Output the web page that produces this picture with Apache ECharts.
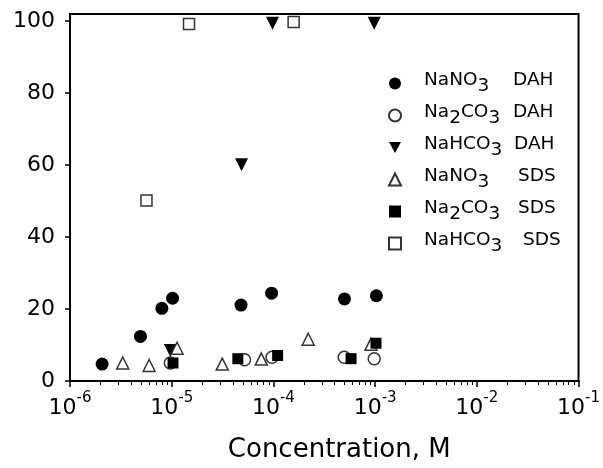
<!DOCTYPE html>
<html><head><meta charset="utf-8">
<script src="https://cdn.jsdelivr.net/npm/echarts@6/dist/echarts.min.js"></script>
<style>html,body{margin:0;padding:0;background:#fff}#c{width:603px;height:468px}</style>
</head><body><div id="c"></div>
<script>
// Data (concentration in M, value in %)
const nano3DAH_x = [2.07e-6, 4.93e-6, 8.0e-6, 1.02e-5, 4.8e-5, 9.6e-5, 5.0e-4, 1.03e-3];
const nano3DAH_y = [4.7, 12.4, 20.2, 23.0, 21.1, 24.4, 22.8, 23.7];
const na2co3DAH_x = [9.7e-6, 5.2e-5, 9.7e-5, 4.97e-4, 9.8e-4];
const na2co3DAH_y = [5.0, 5.9, 6.6, 6.6, 6.2];
const nahco3DAH_x = [9.7e-6, 4.86e-5, 9.8e-5, 9.8e-4];
const nahco3DAH_y = [8.5, 60.1, 99.4, 99.4];
const nano3SDS_x = [3.3e-6, 6.0e-6, 1.13e-5, 3.14e-5, 7.6e-5, 2.2e-4, 9.1e-4];
const nano3SDS_y = [5.0, 4.3, 9.1, 4.7, 6.1, 11.6, 10.2];
const na2co3SDS_x = [1.03e-5, 4.47e-5, 1.1e-4, 5.8e-4, 1.02e-3];
const na2co3SDS_y = [5.0, 6.2, 7.1, 6.2, 10.5];
const nahco3SDS_x = [5.65e-6, 1.48e-5, 1.58e-4];
const nahco3SDS_y = [50.2, 99.2, 99.8];

const seriesNames = ['NaNO3 DAH', 'Na2CO3 DAH', 'NaHCO3 DAH', 'NaNO3 SDS', 'Na2CO3 SDS', 'NaHCO3 SDS'];
const xTickValues = [1e-6, 1e-5, 1e-4, 1e-3, 1e-2, 1e-1];
const yTickLabels = [0, 20, 40, 60, 80, 100];

const FONT = 'DejaVu Sans';
const minorTicks = [];
for (let e = -6; e < -1; e++) for (let k = 2; k <= 9; k++) minorTicks.push(k * Math.pow(10, e));

const pairs = (xs, ys) => xs.map((x, i) => [x, ys[i]]);
const DOWN_TRI = 'path://M0,0L2,0L1,1.8Z';

// legend text layout
const LEG_FS = 18.5;
const ctx = document.createElement('canvas').getContext('2d');
ctx.font = LEG_FS + 'px "' + FONT + '"';
const surfOffset = [89, 89, 90, 94, 94, 99];
function legendFmt(name) {
  const idx = seriesNames.indexOf(name);
  const parts = name.split(' ');
  let out = '{sp| }';
  parts[0].match(/[A-Za-z]+|\d+/g).forEach(t => {
    out += (/\d/.test(t) ? '{s|' : '{f|') + t + '}';
  });
  out += '{g' + idx + '| }{f|' + parts[1] + '}';
  return out;
}
const legendRich = {
  sp: {width: 18, fontSize: LEG_FS, lineHeight: 25, verticalAlign: 'top'},
  f: {fontSize: LEG_FS, fontFamily: FONT, color: '#000', lineHeight: 25, verticalAlign: 'top'},
  s: {fontSize: LEG_FS, fontFamily: FONT, color: '#000', lineHeight: 25, verticalAlign: 'bottom'}
};
seriesNames.forEach((n, idx) => {
  let w = 0;
  n.split(' ')[0].match(/[A-Za-z]+|\d+/g).forEach(t => { w += ctx.measureText(t).width; });
  legendRich['g' + idx] = {width: Math.max(4, surfOffset[idx] - w), lineHeight: 25, verticalAlign: 'top', fontSize: LEG_FS};
});

const filled = {color: '#000', opacity: 1};
const open = {color: '#fff', borderColor: '#333', borderWidth: 1.5, opacity: 1};

const chart = echarts.init(document.getElementById('c'));
chart.setOption({
  animation: false,
  backgroundColor: '#fff',
  textStyle: {fontFamily: FONT},
  grid: {left: 70, right: 23, top: 14, bottom: 85, show: true, borderColor: '#000', borderWidth: 2, backgroundColor: 'transparent'},
  legend: {
    orient: 'vertical', left: 383, top: 66, itemWidth: 12, itemHeight: 12, itemGap: 7,
    selectedMode: false, data: seriesNames,
    formatter: legendFmt,
    textStyle: {rich: legendRich, fontFamily: FONT, fontSize: LEG_FS}
  },
  xAxis: [{
    type: 'log', logBase: 10, min: 1e-6, max: 1e-1, interval: 1, position: 'bottom',
    axisLine: {show: true, lineStyle: {color: '#000', width: 2}},
    axisTick: {show: true, length: 6, lineStyle: {color: '#000', width: 1.5}},
    axisLabel: {
      margin: 10,
      formatter: v => '{b|10}{p|' + Math.round(Math.log10(v)) + '}',
      rich: {
        b: {fontSize: 22, fontFamily: FONT, color: '#000', lineHeight: 28, verticalAlign: 'bottom'},
        p: {fontSize: 15, fontFamily: FONT, color: '#000', lineHeight: 16, verticalAlign: 'top'}
      }
    },
    splitLine: {show: false},
    name: 'Concentration, M', nameLocation: 'middle', nameGap: 56,
    nameTextStyle: {fontSize: 26, fontFamily: FONT, color: '#000', padding: [0, 0, 0, 30]}
  }, {
    type: 'log', logBase: 10, min: 1e-6, max: 1e-1, position: 'bottom',
    axisLine: {show: false},
    axisTick: {show: true, length: 4, customValues: minorTicks, lineStyle: {color: '#000', width: 1}},
    axisLabel: {show: false},
    splitLine: {show: false}
  }],
  yAxis: {
    type: 'value', min: 0, max: 102, interval: 20,
    axisLine: {show: true, lineStyle: {color: '#000', width: 2}},
    axisTick: {show: true, length: 5, customValues: yTickLabels, lineStyle: {color: '#000', width: 1.5}},
    axisLabel: {fontSize: 22, fontFamily: FONT, color: '#000', margin: 15, customValues: yTickLabels},
    splitLine: {show: false}
  },
  series: [
    {name: seriesNames[0], type: 'scatter', symbol: 'circle', symbolSize: 13, itemStyle: filled, data: pairs(nano3DAH_x, nano3DAH_y)},
    {name: seriesNames[1], type: 'scatter', symbol: 'circle', symbolSize: 12, itemStyle: open, data: pairs(na2co3DAH_x, na2co3DAH_y)},
    {name: seriesNames[2], type: 'scatter', symbol: DOWN_TRI, symbolSize: 13, itemStyle: filled, data: pairs(nahco3DAH_x, nahco3DAH_y)},
    {name: seriesNames[3], type: 'scatter', symbol: 'triangle', symbolSize: 12, itemStyle: open, data: pairs(nano3SDS_x, nano3SDS_y)},
    {name: seriesNames[4], type: 'scatter', symbol: 'rect', symbolSize: 11, itemStyle: filled, data: pairs(na2co3SDS_x, na2co3SDS_y)},
    {name: seriesNames[5], type: 'scatter', symbol: 'rect', symbolSize: 11, itemStyle: open, data: pairs(nahco3SDS_x, nahco3SDS_y)}
  ]
});
</script>
</body></html>
